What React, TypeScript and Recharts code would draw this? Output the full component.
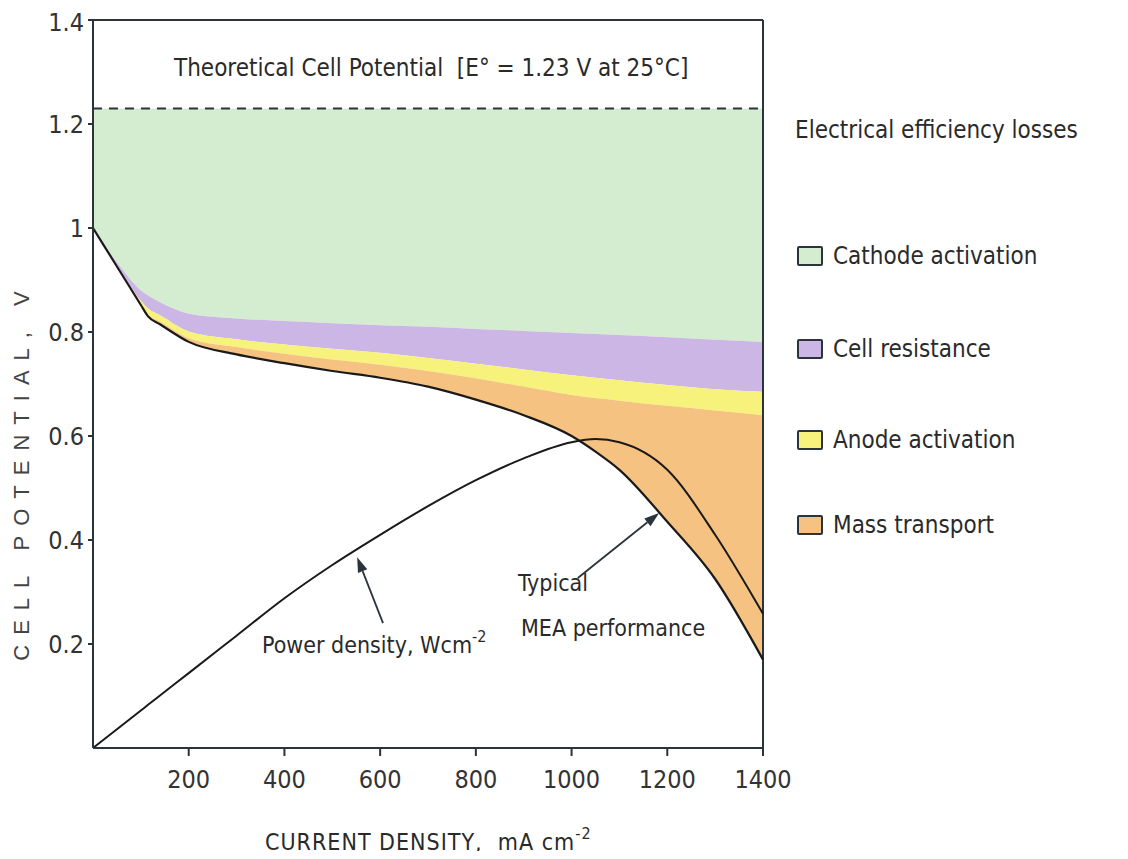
import React from 'react';
import { ComposedChart, Area, Line, XAxis, YAxis, ReferenceLine } from 'recharts';

// current density, mA cm-2
const current = [0, 50, 100, 115, 140, 200, 300, 400, 500, 600, 700, 800, 900, 1000, 1050, 1100, 1200, 1300, 1400];
// typical MEA performance (cell potential, V)
const meaVoltage = [1.0, 0.926, 0.852, 0.83, 0.815, 0.781, 0.757, 0.74, 0.725, 0.712, 0.695, 0.67, 0.64, 0.6, 0.57, 0.535, 0.435, 0.325, 0.17];
// upper edge of each loss band
const massTop = [1.0, 0.927, 0.854, 0.834, 0.82, 0.788, 0.771, 0.758, 0.747, 0.737, 0.725, 0.711, 0.695, 0.679, 0.673, 0.668, 0.658, 0.649, 0.64];
const anodeTop = [1.0, 0.929, 0.86, 0.845, 0.832, 0.801, 0.786, 0.776, 0.768, 0.76, 0.75, 0.739, 0.728, 0.717, 0.712, 0.707, 0.698, 0.69, 0.685];
const resistanceTop = [1.0, 0.934, 0.88, 0.87, 0.857, 0.835, 0.826, 0.821, 0.817, 0.813, 0.81, 0.806, 0.802, 0.798, 0.796, 0.794, 0.79, 0.785, 0.781];
const theoretical = 1.23;
// power density, W cm-2
const powerDensity = [0, 0.036, 0.072, 0.083, 0.101, 0.144, 0.216, 0.288, 0.352, 0.41, 0.465, 0.515, 0.557, 0.588, 0.594, 0.588, 0.535, 0.41, 0.258];

const xTicks = [200, 400, 600, 800, 1000, 1200, 1400];
const yTicks = [0.2, 0.4, 0.6, 0.8, 1, 1.2, 1.4];

const lossNames = ['Cathode activation', 'Cell resistance', 'Anode activation', 'Mass transport'];
const lossColors = ['#d4ecd0', '#cbb6e6', '#f6f27c', '#f5c281'];

const rows = current.map((c, i) => ({
  current: c,
  mea: meaVoltage[i],
  mass: massTop[i],
  anode: anodeTop[i],
  resistance: resistanceTop[i],
  cathode: theoretical,
  power: powerDensity[i],
}));

const ink = '#2b333b';
const cond = "'DejaVu Sans Condensed', 'DejaVu Sans', sans-serif";
const narrow = "'Liberation Sans Narrow', 'DejaVu Sans Condensed', sans-serif";

const Arrow = (p: any) => {
  const { x1, y1, x2, y2 } = p;
  const a = Math.atan2(y2 - y1, x2 - x1);
  const L = 15, W = 5;
  const bx = x2 - L * Math.cos(a), by = y2 - L * Math.sin(a);
  const pts = `${x2},${y2} ${bx + W * Math.sin(a)},${by - W * Math.cos(a)} ${bx - W * Math.sin(a)},${by + W * Math.cos(a)}`;
  return (
    <g>
      <line x1={x1} y1={y1} x2={bx} y2={by} stroke={ink} strokeWidth={1.8} />
      <polygon points={pts} fill={ink} />
    </g>
  );
};

const abs = (left: number, top: number, extra: React.CSSProperties = {}): React.CSSProperties => ({
  position: 'absolute', left, top, whiteSpace: 'nowrap', color: '#2a2a2a', ...extra,
});

const sup = (t: string) => <span style={{ fontSize: 16, position: 'relative', top: -11 }}>{t}</span>;

export default function App() {
  return (
    <div style={{ position: 'relative', width: 1112, height: 843, background: '#fff' }}>
      <ComposedChart width={1112} height={843} data={rows} margin={{ top: 12, right: 357, bottom: 63, left: 25 }}>
        <XAxis
          type="number" dataKey="current" domain={[0, 1400]} ticks={xTicks}
          height={40} tickSize={8} tickMargin={14}
          axisLine={{ stroke: ink, strokeWidth: 2 }} tickLine={{ stroke: ink, strokeWidth: 2 }}
          tick={{ fill: '#333', fontSize: 25, fontFamily: narrow }}
        />
        <YAxis
          type="number" domain={[0, 1.4]} ticks={yTicks} width={60} tickSize={5} tickMargin={4}
          axisLine={{ stroke: ink, strokeWidth: 2 }} tickLine={{ stroke: ink, strokeWidth: 2 }}
          tick={{ fill: '#333', fontSize: 25, fontFamily: narrow }}
          tickFormatter={(v: number) => String(v)}
        />
        <Area type="monotone" dataKey={(d: any) => [d.resistance, d.cathode]} fill={lossColors[0]} fillOpacity={1} stroke="none" isAnimationActive={false} />
        <Area type="monotone" dataKey={(d: any) => [d.anode, d.resistance]} fill={lossColors[1]} fillOpacity={1} stroke="none" isAnimationActive={false} />
        <Area type="monotone" dataKey={(d: any) => [d.mass, d.anode]} fill={lossColors[2]} fillOpacity={1} stroke="none" isAnimationActive={false} />
        <Area type="monotone" dataKey={(d: any) => [d.mea, d.mass]} fill={lossColors[3]} fillOpacity={1} stroke="none" isAnimationActive={false} />
        <ReferenceLine y={theoretical} stroke={ink} strokeWidth={2} strokeDasharray="9 7" />
        <ReferenceLine y={1.4} stroke={ink} strokeWidth={2} />
        <ReferenceLine x={1400} stroke={ink} strokeWidth={2} />
        <Line type="monotone" dataKey="mea" stroke="#1a1a1a" strokeWidth={2.2} dot={false} isAnimationActive={false} />
        <Line type="monotone" dataKey="power" stroke="#1a1a1a" strokeWidth={2} dot={false} isAnimationActive={false} />
        <ReferenceLine segment={[{ x: 606, y: 0.24 }, { x: 552, y: 0.367 }]} shape={Arrow} />
        <ReferenceLine segment={[{ x: 1013, y: 0.327 }, { x: 1183, y: 0.452 }]} shape={Arrow} />
      </ComposedChart>

      <div style={abs(166, 44, { fontFamily: cond, fontSize: 24, lineHeight: '32px' })}>
        Theoretical Cell Potential&nbsp; [E° = 1.23 V at 25°C]
      </div>

      <div style={abs(254, 622, { fontFamily: cond, fontSize: 23, lineHeight: '30px' })}>
        Power density, Wcm{sup('-2')}
      </div>
      <div style={abs(510, 560, { fontFamily: cond, fontSize: 23, lineHeight: '30px' })}>Typical</div>
      <div style={abs(513, 605, { fontFamily: cond, fontSize: 23, lineHeight: '30px' })}>MEA performance</div>

      <div style={abs(-186, 449, { width: 400, textAlign: 'center', transform: 'rotate(-90deg)', fontFamily: "'Liberation Sans', sans-serif", fontSize: 22, letterSpacing: 10, color: '#444', lineHeight: '28px' })}>
        CELL POTENTIAL, V
      </div>
      <div style={abs(257, 819, { fontFamily: cond, fontSize: 23, letterSpacing: 1, lineHeight: '30px' })}>
        CURRENT DENSITY,&nbsp; mA cm{sup('-2')}
      </div>

      <div style={abs(787, 106, { fontFamily: cond, fontSize: 24, lineHeight: '32px' })}>Electrical efficiency losses</div>
      {lossNames.map((name, i) => (
        <div key={name} style={abs(789, [232, 325, 416, 501][i], { display: 'flex', alignItems: 'center', fontFamily: cond, fontSize: 24, lineHeight: '32px' })}>
          <span style={{ width: 22, height: 16, border: `2px solid ${ink}`, borderRadius: 2, background: lossColors[i], marginRight: 10 }} />
          {name}
        </div>
      ))}
    </div>
  );
}
